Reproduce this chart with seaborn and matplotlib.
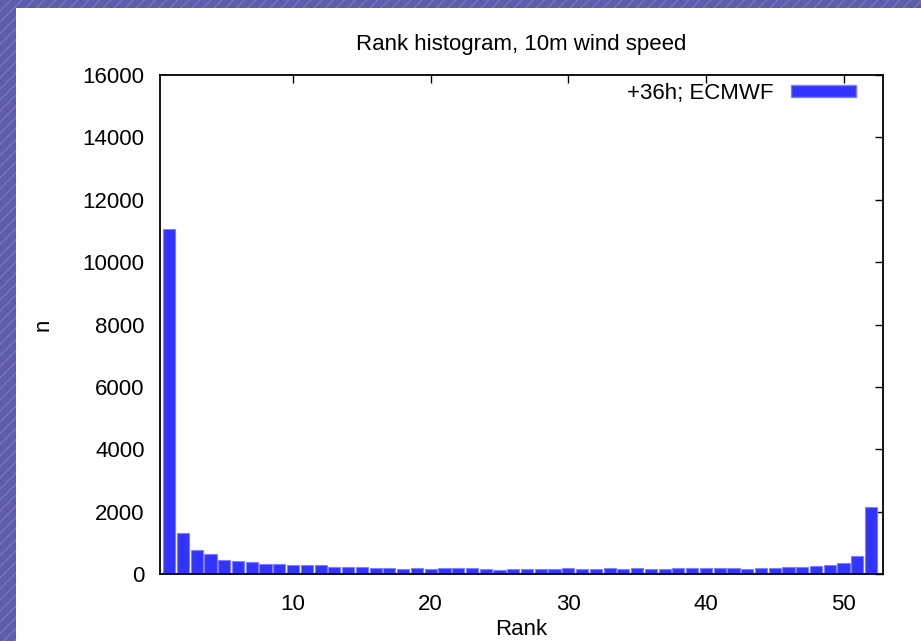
import matplotlib
matplotlib.use("Agg")
import matplotlib.pyplot as plt
import matplotlib.patches as mpatches
import seaborn as sns

# rank histogram counts
ranks = list(range(1, 53))
counts = [11050, 1320, 780, 650, 460, 436, 385, 340, 330, 305,
          288, 288, 245, 245, 225, 200, 200, 180, 200, 180,
          190, 190, 190, 170, 150, 170, 170, 170, 170, 190,
          170, 170, 190, 170, 190, 170, 160, 190, 190, 210,
          210, 190, 180, 210, 210, 245, 225, 265, 300, 355,
          590, 2150]
series_label = "+36h; ECMWF"
title = "Rank histogram, 10m wind speed"
y_ticks = [0, 2000, 4000, 6000, 8000, 10000, 12000, 14000, 16000]
x_ticks = [10, 20, 30, 40, 50]

bar_color = "#3333ff"
edge_color = "#8080ff"

sns.set_theme(style="white")
plt.rcParams["font.family"] = ["Liberation Sans", "DejaVu Sans"]
plt.rcParams["text.color"] = "black"
plt.rcParams["axes.labelcolor"] = "black"
plt.rcParams["hatch.linewidth"] = 0.6

fig = plt.figure(figsize=(9.21, 6.41), dpi=100)
fig.patch.set_facecolor("white")

# purple slide border with diagonal stripes
for rect in [(0, 0, 16 / 921, 1), (0, 1 - 8 / 641, 1, 8 / 641)]:
    fig.patches.append(mpatches.Rectangle(rect[:2], rect[2], rect[3],
                                          transform=fig.transFigure,
                                          facecolor="#5d5dab", edgecolor="#8585c2",
                                          linewidth=0, hatch="///", zorder=0))

ax = fig.add_axes([160 / 921, 1 - 574.3 / 641, 722.5 / 921, 499.3 / 641])

sns.barplot(x=ranks, y=counts, native_scale=True, width=0.88, color=bar_color,
            edgecolor=edge_color, linewidth=0.8, saturation=1, ax=ax)

ax.set_xlim(0.33, 52.83)
ax.set_ylim(0, 16000)
ax.set_yticks(y_ticks)
ax.set_xticks(x_ticks)

ax.tick_params(direction="in", length=6, width=1, colors="black",
               top=True, right=True, labelsize=16, pad=11)
ax.tick_params(axis="x", pad=14)
for s in ax.spines.values():
    s.set_visible(True)
    s.set_color("black")
    s.set_linewidth(1.3)

ax.set_title(title, fontsize=16, pad=18, color="black")
ax.set_xlabel("Rank", fontsize=16, labelpad=3)
ax.set_ylabel("n", fontsize=16, rotation=90, labelpad=21)

handle = mpatches.Patch(facecolor=bar_color, edgecolor=edge_color)
ax.legend([handle], [series_label], loc="upper right", frameon=False,
          markerfirst=False, fontsize=16, handlelength=2.9, handleheight=0.5,
          handletextpad=0.8, borderaxespad=0, borderpad=0,
          bbox_to_anchor=(0.963, 0.984))

fig.savefig("out.png", dpi=100)
